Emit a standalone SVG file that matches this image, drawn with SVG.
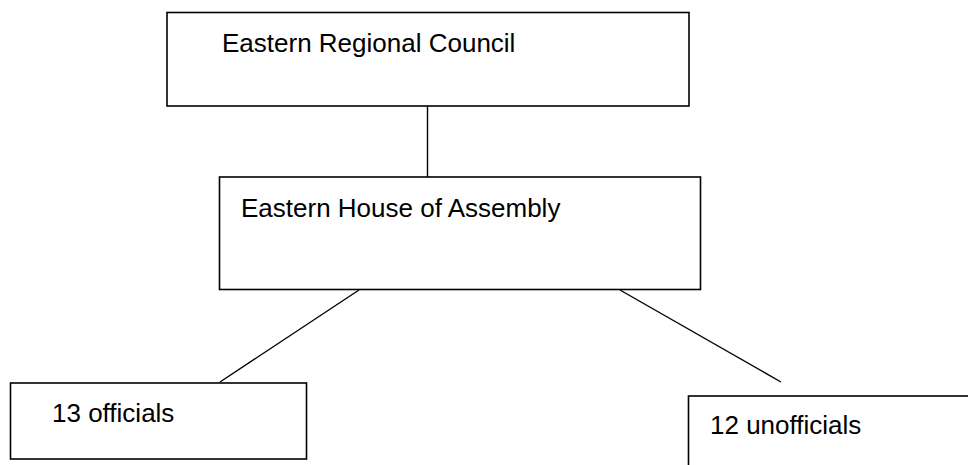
<svg xmlns="http://www.w3.org/2000/svg" width="968" height="465" viewBox="0 0 968 465">
  <style>
    .box { fill: #ffffff; stroke: #000000; stroke-width: 1.6; }
    .link { stroke: #000000; stroke-width: 1.4; fill: none; }
    .label { font-family: "Liberation Sans", Arial, sans-serif; font-size: 26px; fill: #000000; }
  </style>
  <rect width="968" height="465" fill="#ffffff"/>

  <!-- connectors -->
  <g id="connectors">
    <line class="link" x1="427.5" y1="106" x2="427.5" y2="177"/>
    <line class="link" x1="359" y1="290" x2="220" y2="382"/>
    <line class="link" x1="620" y1="290" x2="781" y2="382"/>
  </g>

  <g id="node-council">
    <rect class="box" x="167" y="12.5" width="522" height="93.5"/>
    <text class="label" x="222" y="52">Eastern Regional Council</text>
  </g>

  <g id="node-assembly">
    <rect class="box" x="219.5" y="177" width="481" height="112.5"/>
    <text class="label" x="241" y="217">Eastern House of Assembly</text>
  </g>

  <g id="node-officials">
    <rect class="box" x="10.5" y="383" width="296" height="76"/>
    <text class="label" x="52" y="422">13 officials</text>
  </g>

  <g id="node-unofficials">
    <rect class="box" x="688.5" y="396" width="300" height="90"/>
    <text class="label" x="710" y="434">12 unofficials</text>
  </g>
</svg>
